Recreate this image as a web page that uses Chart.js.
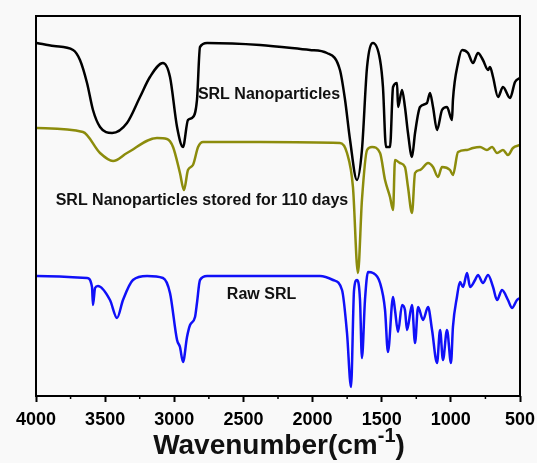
<!DOCTYPE html>
<html>
<head>
<meta charset="utf-8">
<script src="https://cdn.jsdelivr.net/npm/chart.js@4.4.1/dist/chart.umd.min.js"></script>
<style>
  html, body { margin: 0; padding: 0; background: #f9f9f9; }
  #wrap { width: 537px; height: 463px; position: relative; }
</style>
</head>
<body>
<div id="wrap"><canvas id="ftir"></canvas></div>
<script>
// wavenumbers (cm-1) and relative transmittance
const nanoWave = [3995, 3870, 3732, 3682, 3631, 3588, 3537, 3450, 3342, 3248, 3176, 3082, 3031, 2980, 2937, 2901, 2872, 2836, 2814, 2763, 2380, 2019, 1896, 1802, 1765, 1729, 1679, 1643, 1606, 1563, 1512, 1491, 1469, 1440, 1418, 1389, 1382, 1353, 1332, 1310, 1281, 1259, 1223, 1173, 1151, 1129, 1100, 1064, 1028, 992, 985, 948, 919, 876, 840, 804, 768, 731, 717, 695, 659, 623, 572, 536, 500];
const nanoT    = [353, 350, 346, 336, 313, 286, 269, 263, 273, 299, 319, 333, 319, 269, 249, 276, 278, 296, 349, 353, 351, 346, 343, 326, 296, 256, 216, 246, 329, 353, 336, 309, 249, 249, 309, 313, 289, 306, 289, 263, 239, 263, 289, 293, 303, 289, 266, 286, 289, 276, 296, 333, 346, 343, 333, 343, 336, 326, 329, 319, 299, 309, 298, 314, 318];

const storedWave = [3993, 3660, 3537, 3443, 3342, 3125, 3053, 3009, 2959, 2930, 2901, 2865, 2828, 2792, 2380, 1802, 1751, 1708, 1672, 1643, 1606, 1570, 1512, 1476, 1440, 1418, 1404, 1368, 1332, 1310, 1281, 1259, 1223, 1165, 1129, 1093, 1064, 1006, 985, 948, 883, 840, 789, 739, 702, 666, 623, 587, 551, 500];
const storedT    = [268, 264, 243, 235, 243, 258, 257, 249, 223, 206, 226, 231, 249, 254, 254, 253, 243, 209, 123, 196, 246, 249, 243, 216, 199, 186, 236, 233, 229, 209, 183, 223, 226, 233, 229, 219, 229, 226, 221, 244, 246, 248, 249, 246, 249, 243, 246, 241, 248, 251];

const rawWave = [3993, 3631, 3595, 3588, 3573, 3552, 3465, 3414, 3371, 3299, 3197, 3082, 3031, 2980, 2959, 2937, 2908, 2886, 2850, 2836, 2814, 2763, 2380, 1946, 1852, 1787, 1751, 1722, 1700, 1679, 1657, 1643, 1621, 1599, 1563, 1512, 1476, 1455, 1418, 1404, 1382, 1353, 1332, 1317, 1281, 1259, 1237, 1201, 1165, 1136, 1100, 1078, 1057, 1028, 999, 985, 956, 934, 912, 883, 861, 825, 804, 768, 731, 695, 666, 630, 587, 558, 522, 500];
const rawT    = [120, 118, 109, 91, 108, 110, 96, 78, 96, 116, 120, 118, 103, 56, 49, 34, 59, 71, 79, 93, 116, 120, 120, 120, 116, 106, 63, 9, 106, 116, 96, 38, 96, 124, 123, 113, 86, 44, 99, 86, 64, 91, 86, 66, 91, 53, 89, 76, 89, 66, 33, 66, 36, 66, 33, 69, 99, 114, 109, 123, 109, 116, 121, 113, 121, 109, 96, 106, 96, 88, 96, 98];

const xTicks = [4000, 3500, 3000, 2500, 2000, 1500, 1000, 500];
const minorTicks = [3750, 3250, 2750, 2250, 1750, 1250, 750];

const seriesLabels = [
  { text: 'SRL Nanoparticles', wave: 2315, t: 301 },
  { text: 'SRL Nanoparticles stored for 110 days', wave: 2800, t: 195 },
  { text: 'Raw SRL', wave: 2369, t: 101 }
];

function pts(w, t) {
  return w.map((v, i) => ({ x: v, y: t[i] }));
}

const framePlugin = {
  id: 'frame',
  afterDraw(chart) {
    const ctx = chart.ctx;
    const a = chart.chartArea;
    const xs = chart.scales.x;
    const ys = chart.scales.y;
    ctx.save();
    ctx.strokeStyle = '#000';
    ctx.lineWidth = 2;
    ctx.strokeRect(a.left, a.top, a.right - a.left, a.bottom - a.top);

    // minor ticks
    ctx.lineWidth = 1.5;
    minorTicks.forEach(v => {
      const px = xs.getPixelForValue(v);
      ctx.beginPath();
      ctx.moveTo(px, a.bottom);
      ctx.lineTo(px, a.bottom + 3);
      ctx.stroke();
    });

    // series labels
    ctx.fillStyle = '#111';
    ctx.font = 'bold 16px "Liberation Sans", Arial, sans-serif';
    ctx.textAlign = 'center';
    ctx.textBaseline = 'middle';
    seriesLabels.forEach(l => {
      ctx.fillText(l.text, xs.getPixelForValue(l.wave), ys.getPixelForValue(l.t));
    });

    // axis title with superscript
    const main = 'Wavenumber(cm';
    const sup = '-1';
    const close = ')';
    ctx.textAlign = 'left';
    ctx.textBaseline = 'alphabetic';
    ctx.font = 'bold 28px "Liberation Sans", Arial, sans-serif';
    const w1 = ctx.measureText(main).width;
    const w3 = ctx.measureText(close).width;
    ctx.font = 'bold 20px "Liberation Sans", Arial, sans-serif';
    const w2 = ctx.measureText(sup).width;
    const total = w1 + w2 + w3;
    const cx = (a.left + a.right) / 2 + 1;
    let x0 = cx - total / 2;
    const base = 454;
    ctx.font = 'bold 28px "Liberation Sans", Arial, sans-serif';
    ctx.fillText(main, x0, base);
    ctx.font = 'bold 20px "Liberation Sans", Arial, sans-serif';
    ctx.fillText(sup, x0 + w1, base - 12);
    ctx.font = 'bold 28px "Liberation Sans", Arial, sans-serif';
    ctx.fillText(close, x0 + w1 + w2, base);
    ctx.restore();
  }
};

new Chart(document.getElementById('ftir'), {
  type: 'line',
  data: {
    datasets: [
      { label: 'SRL Nanoparticles', data: pts(nanoWave, nanoT), borderColor: '#000000' },
      { label: 'SRL Nanoparticles stored for 110 days', data: pts(storedWave, storedT), borderColor: '#8c8c0c' },
      { label: 'Raw SRL', data: pts(rawWave, rawT), borderColor: '#1010f8' }
    ]
  },
  options: {
    responsive: true,
    maintainAspectRatio: false,
    animation: false,
    events: [],
    layout: { padding: { left: 36, right: 17, top: 16, bottom: 0 } },
    elements: {
      point: { radius: 0 },
      line: { borderWidth: 2.5, cubicInterpolationMode: 'monotone', fill: false }
    },
    plugins: { legend: { display: false }, tooltip: { enabled: false } },
    scales: {
      x: {
        type: 'linear',
        reverse: true,
        min: 500,
        max: 4000,
        afterBuildTicks: s => { s.ticks = xTicks.map(v => ({ value: v })); },
        afterFit: s => { s.height = 67; s.paddingLeft = 0; s.paddingRight = 0; },
        border: { display: false },
        grid: { drawOnChartArea: false, tickLength: 6, tickWidth: 2, color: '#000' },
        ticks: {
          color: '#000',
          padding: 7,
          maxRotation: 0,
          autoSkip: false,
          callback: v => String(v),
          font: { family: '"Liberation Sans", Arial, sans-serif', size: 18, weight: 'bold' }
        }
      },
      y: {
        display: false,
        min: 0,
        max: 380
      }
    }
  },
  plugins: [framePlugin]
});
</script>
</body>
</html>
